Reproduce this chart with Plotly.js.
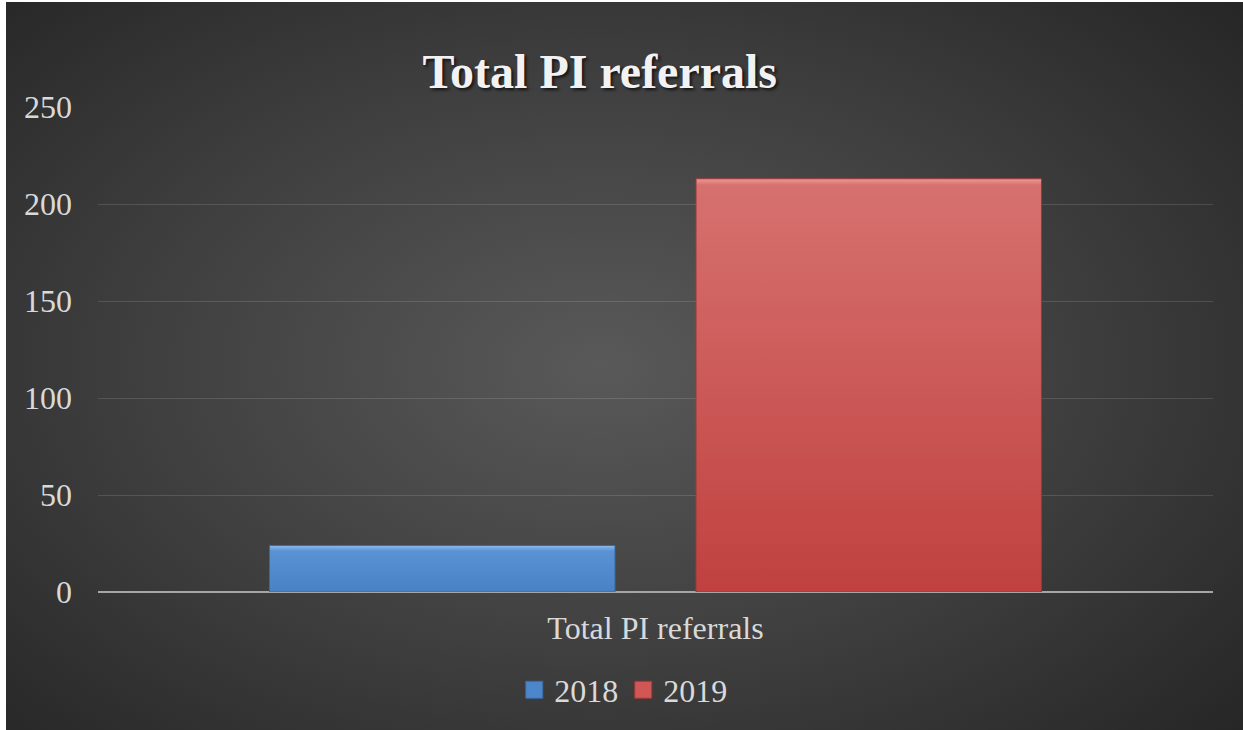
<!DOCTYPE html>
<html>
<head>
<meta charset="utf-8">
<script src="https://cdn.plot.ly/plotly-3.0.1.min.js"></script>
<style>
  html, body { margin: 0; padding: 0; background: #ffffff; width: 1243px; height: 730px; overflow: hidden; }
  #chart {
    position: absolute; left: 6px; top: 2px; width: 1237px; height: 728px;
    background: radial-gradient(ellipse 70% 75% at 48% 50%, #595959 0%, #3e3e3e 55%, #262626 100%);
  }
</style>
</head>
<body>
<div id="chart"></div>
<script>
const categories = ["Total PI referrals"];
const seriesNames = ["2018", "2019"];
const values2018 = [24];
const values2019 = [213];
const yTicks = [0, 50, 100, 150, 200, 250];
const chartTitle = "Total PI referrals";

const serif = '"Liberation Serif", "Times New Roman", serif';

const traces = [
  {
    type: 'bar', name: seriesNames[0], x: categories, y: values2018,
    marker: { color: '#4d87cb', line: { color: '#3a6aa3', width: 1 } },
    hoverinfo: 'skip'
  },
  {
    type: 'bar', name: seriesNames[1], x: categories, y: values2019,
    marker: { color: '#d05755', line: { color: '#9e3836', width: 1 } },
    hoverinfo: 'skip'
  }
];

const layout = {
  width: 1237, height: 728,
  paper_bgcolor: 'rgba(0,0,0,0)', plot_bgcolor: 'rgba(0,0,0,0)',
  margin: { l: 92, r: 30, t: 105, b: 138, pad: 0 },
  font: { family: serif, color: '#d9d9d9', size: 32 },
  title: {
    text: chartTitle,
    font: { family: serif, size: 48, weight: 'bold', color: '#f2f2f2', shadow: '2px 2px 3px rgba(0,0,0,0.7)' },
    xref: 'container', x: 0.48, xanchor: 'center',
    yref: 'container', y: 0.905, yanchor: 'middle'
  },
  barmode: 'group', bargap: 0.235, bargroupgap: 0.19,
  xaxis: {
    type: 'category', showgrid: false, zeroline: false, showline: false, ticks: '',
    tickfont: { family: serif, size: 32, color: '#d9d9d9' }, ticklabelstandoff: 14
  },
  yaxis: {
    range: [0, 250], tickvals: yTicks, ticktext: yTicks.map(String),
    showgrid: true, gridcolor: 'rgba(255,255,255,0.13)', gridwidth: 1,
    zeroline: true, zerolinecolor: '#a6a6a6', zerolinewidth: 2,
    showline: false, ticks: '',
    tickfont: { family: serif, size: 32, color: '#d9d9d9' }, ticklabelstandoff: 25
  },
  showlegend: true,
  legend: {
    orientation: 'h', xref: 'container', x: 0.499, xanchor: 'center',
    yref: 'container', y: 0.055, yanchor: 'middle',
    font: { family: serif, size: 32, color: '#d9d9d9' },
    bgcolor: 'rgba(0,0,0,0)', itemwidth: 30, tracegroupgap: 0
  }
};

Plotly.newPlot('chart', traces, layout, { displayModeBar: false, staticPlot: true }).then(function (gd) {
  // cosmetic vertical shading on bars, similar to the original's bevel style
  const svg = gd.querySelector('svg.main-svg');
  const ns = 'http://www.w3.org/2000/svg';
  let defs = svg.querySelector('defs');
  if (!defs) { defs = document.createElementNS(ns, 'defs'); svg.insertBefore(defs, svg.firstChild); }
  const grads = [
    { id: 'g2018', stops: [['0', '#8dbbee'], ['0.12', '#5a93d4'], ['1', '#4882c5']] },
    { id: 'g2019', stops: [['0', '#ef9a97'], ['0.015', '#d6716f'], ['1', '#c0413f']] }
  ];
  grads.forEach(function (g) {
    const lg = document.createElementNS(ns, 'linearGradient');
    lg.setAttribute('id', g.id);
    lg.setAttribute('x1', '0'); lg.setAttribute('y1', '0');
    lg.setAttribute('x2', '0'); lg.setAttribute('y2', '1');
    g.stops.forEach(function (s) {
      const st = document.createElementNS(ns, 'stop');
      st.setAttribute('offset', s[0]);
      st.setAttribute('stop-color', s[1]);
      lg.appendChild(st);
    });
    defs.appendChild(lg);
  });
  const barTraces = gd.querySelectorAll('.barlayer .trace');
  barTraces.forEach(function (t, i) {
    t.querySelectorAll('.point path').forEach(function (p) {
      p.style.fill = 'url(#' + grads[i].id + ')';
    });
  });
  // slightly larger legend swatches, like the original
  gd.querySelectorAll('.legend .traces .legendpoints path').forEach(function (p) {
    p.setAttribute('d', 'M8.5,8.5H-8.5V-8.5H8.5Z');
  });
});
</script>
</body>
</html>
